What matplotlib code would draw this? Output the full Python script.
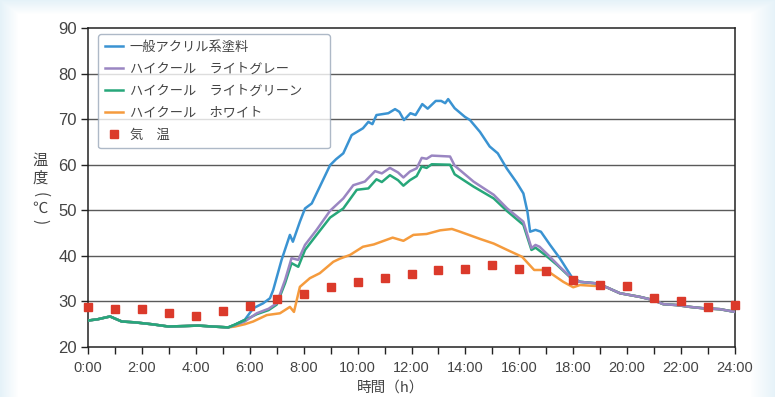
import numpy as np
import matplotlib.pyplot as plt

plt.rcParams['font.family'] = ['Noto Sans CJK JP', 'DejaVu Sans']

# night / evening parts shared by all four coatings
night_t = [0, 0.37, 0.82, 1.25, 1.75, 2.36, 2.98, 3.6, 4.09, 4.6, 5.2]
night_v = [25.8, 26.1, 26.7, 25.6, 25.4, 25.0, 24.5, 24.6, 24.7, 24.5, 24.3]
evening_t = [19.73, 20.47, 20.97, 21.34, 21.84, 22.33, 22.82, 23.44, 24.0]
evening_v = [31.8, 31.0, 30.3, 29.4, 29.2, 28.8, 28.5, 28.3, 27.7]

acryl_t = [5.45, 5.82, 6.13, 6.5, 6.75, 6.87, 7.18, 7.49, 7.6, 7.86, 8.05, 8.3,
           8.6, 8.98, 9.2, 9.47, 9.78, 10.2, 10.4, 10.55, 10.7, 11.14, 11.39, 11.55,
           11.72, 11.96, 12.15, 12.4, 12.6, 12.9, 13.1, 13.25, 13.36, 13.6, 13.98, 14.17,
           14.54, 14.9, 15.2, 15.53, 15.9, 16.15, 16.3, 16.4, 16.6, 16.8, 17.14, 17.5,
           17.94, 18.25, 18.8, 19.24]
acryl_v = [24.9, 26.0, 28.5, 29.6, 30.7, 32.5, 39.1, 44.6, 43.1, 47.5, 50.4, 51.5,
           55.2, 59.9, 61.2, 62.5, 66.5, 68.0, 69.4, 68.9, 70.9, 71.3, 72.2, 71.6,
           69.8, 71.3, 70.9, 73.3, 72.3, 74.0, 74.0, 73.5, 74.4, 72.4, 70.5, 69.8,
           67.2, 64.0, 62.5, 59.2, 56.1, 53.7, 49.7, 45.3, 45.7, 45.3, 42.4, 39.5,
           35.4, 34.3, 34.0, 33.1]

gray_t = [5.45, 5.82, 6.26, 6.7, 7.0, 7.31, 7.55, 7.8, 8.05, 8.48, 8.98, 9.47,
          9.84, 10.27, 10.65, 10.9, 11.2, 11.5, 11.7, 11.94, 12.19, 12.38, 12.56, 12.75,
          13.43, 13.6, 14.3, 15.05, 15.55, 16.15, 16.45, 16.6, 16.75, 17.1, 17.5, 17.94,
          18.25, 18.8, 19.24]
gray_v = [24.8, 25.6, 27.4, 28.4, 29.6, 34.7, 39.5, 39.1, 42.4, 45.7, 49.9, 52.6,
          55.5, 56.3, 58.6, 58.1, 59.3, 58.3, 57.2, 58.5, 59.2, 61.5, 61.3, 62.0,
          61.8, 59.8, 56.3, 53.4, 50.4, 47.5, 41.7, 42.4, 42.0, 40.0, 37.6, 35.1,
          34.3, 34.0, 33.1]

green_t = [5.45, 5.82, 6.26, 6.7, 7.0, 7.31, 7.55, 7.8, 8.05, 8.48, 8.98, 9.47,
           9.97, 10.4, 10.7, 10.9, 11.2, 11.5, 11.7, 11.94, 12.19, 12.38, 12.56, 12.75,
           13.43, 13.6, 14.3, 15.05, 15.55, 16.15, 16.45, 16.6, 17.0, 17.4, 17.94, 18.25,
           18.8, 19.24]
green_v = [24.9, 25.9, 27.2, 28.1, 29.3, 34.0, 38.4, 37.6, 41.3, 44.6, 48.4, 50.4,
           54.5, 54.8, 56.8, 56.2, 57.7, 56.6, 55.4, 56.6, 57.5, 59.6, 59.3, 60.1,
           60.0, 57.9, 55.2, 52.6, 49.8, 46.8, 41.3, 41.8, 40.0, 38.0, 35.0, 34.3,
           34.0, 33.1]

white_t = [5.45, 5.82, 6.13, 6.63, 7.12, 7.49, 7.64, 7.86, 8.23, 8.6, 9.1, 9.35,
           9.72, 10.2, 10.6, 11.3, 11.7, 12.07, 12.56, 13.06, 13.5, 13.8, 14.55, 15.05,
           15.55, 16.1, 16.55, 17.0, 17.26, 17.63, 18.0, 18.25, 18.8, 19.05]
white_v = [24.5, 25.0, 25.6, 27.0, 27.4, 28.8, 27.7, 33.2, 35.1, 36.2, 38.7, 39.4,
           40.2, 42.0, 42.5, 44.0, 43.3, 44.6, 44.8, 45.6, 45.9, 45.3, 43.7, 42.7,
           41.3, 39.8, 36.9, 36.9, 35.8, 34.3, 33.1, 33.6, 33.4, 33.6]

air_t = list(range(25))
air_v = [28.7, 28.4, 28.4, 27.5, 26.7, 27.8, 29.1, 30.6, 31.7, 33.1, 34.3, 35.2,
         36.1, 36.8, 37.2, 38.1, 37.2, 36.6, 34.8, 33.5, 33.3, 30.7, 30.0, 28.7, 29.3]

labels = ['一般アクリル系塗料', 'ハイクール　ライトグレー', 'ハイクール　ライトグリーン',
          'ハイクール　ホワイト', '気　温']
colors = ['#3a93d2', '#9a86c2', '#27a77a', '#f59b3d', '#db3a2b']

fig = plt.figure(figsize=(7.75, 3.97), dpi=100)

# soft light-blue frame behind the chart
bg = fig.add_axes([0, 0, 1, 1], zorder=-10)
yy, xx = np.mgrid[0:397, 0:775]
d = np.minimum.reduce([xx / 18.0, (775 - xx) / 25.0, yy / 14.0, np.full(xx.shape, 1.0)])
d = np.clip(d, 0, 1)
c0 = np.array([0.90, 0.95, 0.975])
img = c0[None, None, :] * (1 - d[..., None]) + d[..., None] * 1.0
bg.imshow(img, aspect='auto', extent=[0, 1, 0, 1])
bg.axis('off')

ax = fig.add_axes([88 / 775, 1 - 347 / 397, 647 / 775, 319 / 397])
ax.set_facecolor('none')

def full(t, v):
    return night_t + t + evening_t, night_v + v + evening_v

tt, vv = full(acryl_t, acryl_v)
ax.plot(tt, vv, color=colors[0], lw=1.8, label=labels[0], zorder=3)
tt, vv = full(white_t, white_v)
ax.plot(tt, vv, color=colors[3], lw=1.8, label=labels[3], zorder=3)
tt, vv = full(gray_t, gray_v)
ax.plot(tt, vv, color=colors[1], lw=1.8, label=labels[1], zorder=4)
tt, vv = full(green_t, green_v)
ax.plot(tt, vv, color=colors[2], lw=1.8, label=labels[2], zorder=3)
# green sits on top during the night part
ax.plot(night_t + green_t[:2], night_v + green_v[:2], color=colors[2], lw=1.8, zorder=5)
ax.plot(air_t, air_v, 's', color=colors[4], ms=6, label=labels[4], zorder=6, clip_on=False)

ax.set_xlim(0, 24)
ax.set_ylim(20, 90)
ax.set_yticks(range(20, 91, 10))
ax.set_xticks(range(0, 25, 1), minor=True)
ax.set_xticks(range(0, 25, 2))
ax.set_xticklabels(['%d:00' % h for h in range(0, 25, 2)])
for y in range(30, 90, 10):
    ax.axhline(y, color='#5a5a5a', lw=1.0, zorder=1)
for s in ax.spines.values():
    s.set_color('#222222')
    s.set_linewidth(1.1)
ax.tick_params(axis='both', which='both', direction='out', length=5, width=1.0,
               colors='#222222', labelcolor='#444444')
ax.tick_params(axis='y', labelsize=12, pad=3)
ax.tick_params(axis='x', labelsize=10.5, pad=5)
for lab in ax.get_xticklabels() + ax.get_yticklabels():
    lab.set_family(['Liberation Sans Narrow', 'Liberation Sans', 'DejaVu Sans'])

handles, labs = ax.get_legend_handles_labels()
order = [0, 2, 3, 1, 4]
leg = ax.legend([handles[i] for i in order], [labs[i] for i in order],
                loc='upper left', bbox_to_anchor=(0.0155, 0.6300, 0.3586, 0.351),
                mode='expand', borderaxespad=0,
                fontsize=9.5, frameon=True, fancybox=True, handlelength=1.4,
                handletextpad=0.5, labelspacing=0.68, borderpad=0.5)
leg.get_frame().set_edgecolor('#9aa8ba')
leg.get_frame().set_linewidth(1.0)
for t in leg.get_texts():
    t.set_color('#444444')

# vertical y-axis label: 温 / 度 upright, parentheses turned to the vertical form
ylab_chars = ['温', '度', '(', '℃', ')']
ylab_pos = [160, 178, 195, 208, 222]
ylab_rot = [0, 0, 270, 0, 270]
for ch, yp, rot in zip(ylab_chars, ylab_pos, ylab_rot):
    fig.text(40 / 775, 1 - yp / 397, ch, ha='center', va='center', rotation=rot,
             fontsize=11, color='#444444')
fig.text(391 / 775, 1 - 388 / 397, '時間（h）', ha='center', va='center',
         fontsize=10.5, color='#444444')

fig.savefig('out.png', dpi=100)
